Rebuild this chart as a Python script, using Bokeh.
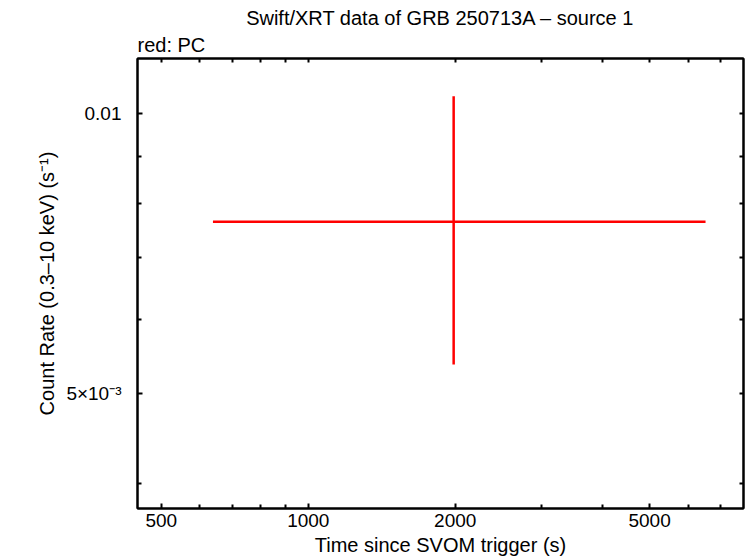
from bokeh.plotting import figure
from bokeh.models import Range1d, FixedTicker, LogAxis, Title, ColumnDataSource
from bokeh.embed import file_html
from bokeh.resources import INLINE

# Data
time = [1985.0]
time_lo = [638.0]
time_hi = [6510.0]
rate = [0.00765]
rate_lo = [0.00537]
rate_hi = [0.01044]

x_major = [500, 1000, 2000, 5000]
x_minor = [600, 700, 800, 900, 3000, 4000, 6000, 7000]
y_major = [0.005, 0.01]
y_minor = [0.004, 0.006, 0.007, 0.008, 0.009]
y_labels = {0.005: "5×10⁻³", 0.01: "0.01"}

FONT = "Liberation Sans"

src = ColumnDataSource(dict(t=time, tlo=time_lo, thi=time_hi, r=rate, rlo=rate_lo, rhi=rate_hi))

p = figure(width=746, height=558, x_axis_type="log", y_axis_type="log",
           x_range=Range1d(447, 7786), y_range=Range1d(0.00376, 0.01146),
           output_backend="svg", toolbar_location=None,
           min_border_left=137, min_border_right=3, min_border_top=58, min_border_bottom=50)

p.background_fill_color = "white"
p.border_fill_color = "white"
p.outline_line_color = "black"
p.outline_line_width = 2
p.xgrid.visible = False
p.ygrid.visible = False

p.segment(x0="tlo", x1="thi", y0="r", y1="r", source=src, line_color="#ff0000", line_width=2.5)
p.segment(x0="t", x1="t", y0="rlo", y1="rhi", source=src, line_color="#ff0000", line_width=2.5)

def style_axis(ax, ticks, minor):
    ax.ticker = FixedTicker(ticks=ticks, minor_ticks=minor)
    ax.axis_line_color = "black"
    ax.axis_line_width = 2
    ax.major_tick_line_width = 2
    ax.minor_tick_line_width = 2
    ax.major_tick_in = 5
    ax.major_tick_out = 0
    ax.minor_tick_in = 4
    ax.minor_tick_out = 0
    ax.major_label_text_font = FONT
    ax.major_label_text_font_size = "19px"
    ax.major_label_text_color = "black"
    ax.axis_label_text_font = FONT
    ax.axis_label_text_font_size = "20px"
    ax.axis_label_text_font_style = "normal"
    ax.axis_label_text_color = "black"

xa = p.xaxis[0]
style_axis(xa, x_major, x_minor)
xa.major_label_overrides = {500: "500", 1000: "1000", 2000: "2000", 5000: "5000"}
xa.major_label_standoff = 5
xa.axis_label = "Time since SVOM trigger (s)"
xa.axis_label_standoff = 4

ya = p.yaxis[0]
style_axis(ya, y_major, y_minor)
ya.major_label_overrides = y_labels
ya.major_label_standoff = 16
ya.axis_label = "Count Rate (0.3–10 keV) (s⁻¹)"
ya.axis_label_standoff = 5

# mirrored ticks on the right and top edges (no labels)
for loc, ticks, minor in (("right", y_major, y_minor), ("above", x_major, x_minor)):
    ax = LogAxis()
    style_axis(ax, [], sorted(ticks + minor))
    ax.minor_tick_in = 4
    ax.major_label_standoff = 0
    p.add_layout(ax, loc)

p.title.text = "Swift/XRT data of GRB 250713A – source 1"
p.title.align = "center"
p.title.text_font = FONT
p.title.text_font_size = "20px"
p.title.text_font_style = "normal"
p.title.text_color = "black"
p.title.standoff = 1

sub = Title(text="red: PC", align="left", text_font=FONT, text_font_size="20px",
            text_font_style="normal", text_color="black", standoff=5)
p.add_layout(sub, "above")

open("out.html", "w").write(file_html(p, INLINE))
